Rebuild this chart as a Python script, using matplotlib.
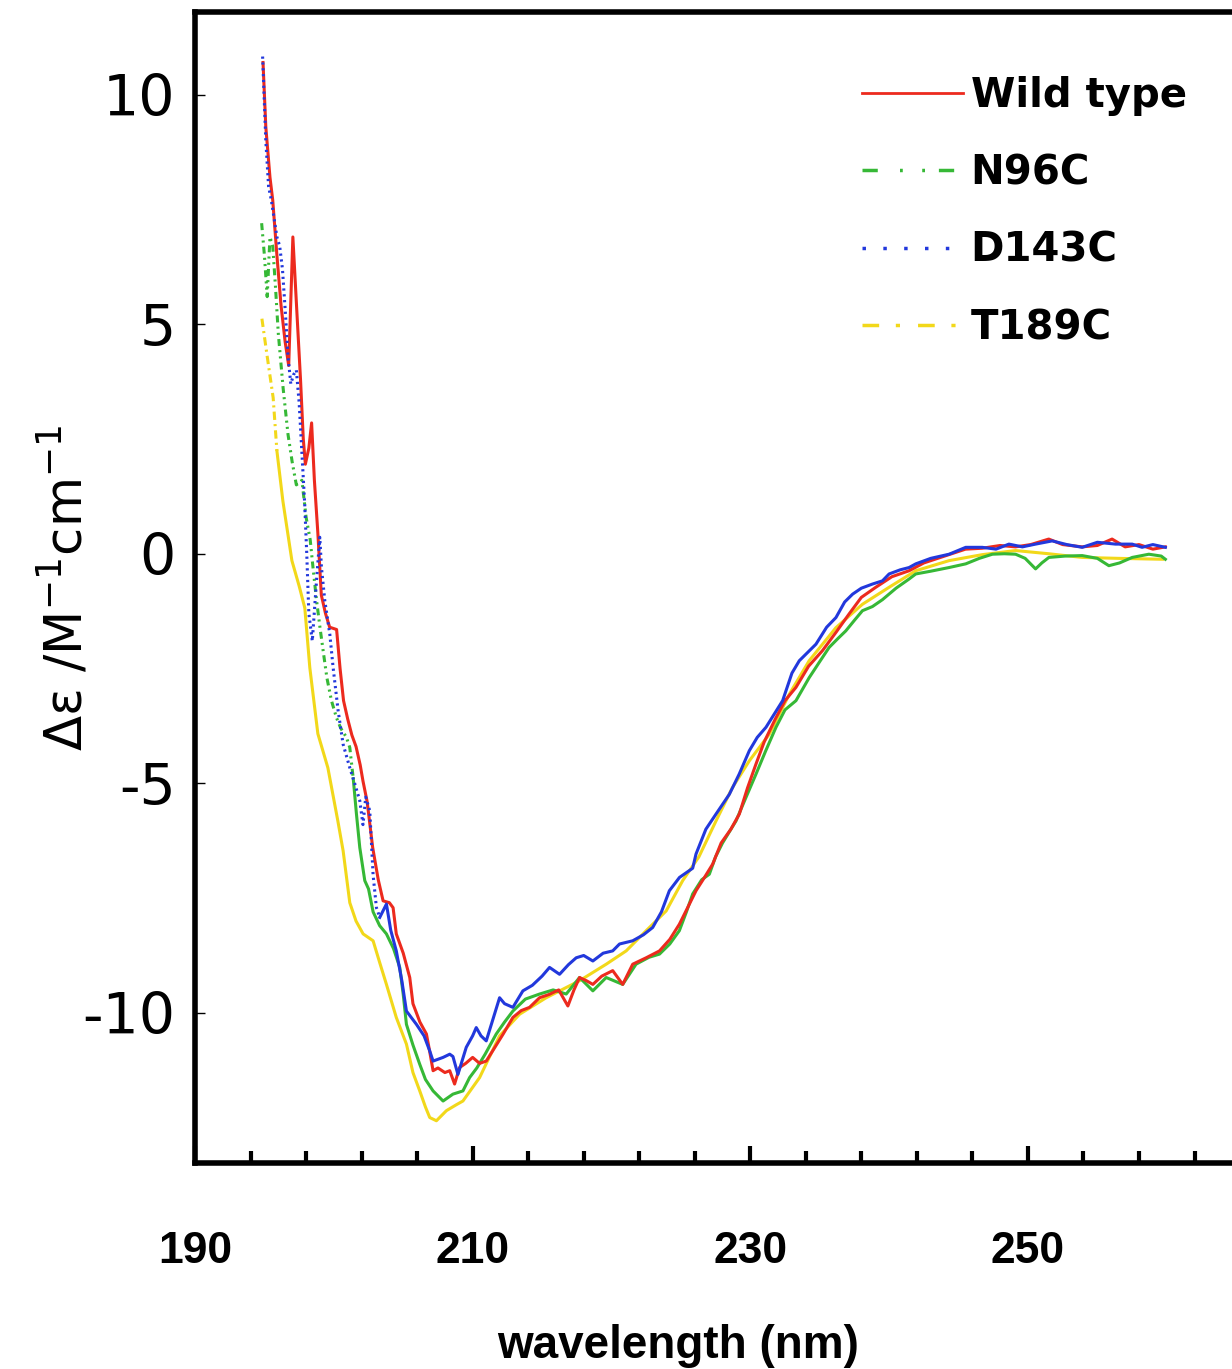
import numpy as np
from matplotlib import pyplot as plt
from matplotlib.lines import Line2D

plt.rcParams['axes.unicode_minus'] = False
plt.rcParams['lines.scale_dashes'] = False

# CD spectra: wavelength (nm) and delta epsilon (M-1 cm-1)
wt_nm = [194.9, 195.1, 195.4, 195.6, 195.9, 196.2, 196.5, 196.75, 197.05, 197.35, 197.6, 197.8,
         197.95, 198.2, 198.4, 198.6, 198.85, 199.1, 199.4, 199.7, 200.2, 200.45, 200.7, 201.0,
         201.3, 201.6, 201.9, 202.1, 202.4, 202.8, 203.2, 203.55, 204.0, 204.27, 204.5, 205.0,
         205.47, 205.7, 206.2, 206.67, 206.9, 207.15, 207.5, 208.0, 208.35, 208.7, 209.06, 209.5,
         210.0, 210.5, 210.98, 211.5, 212.2, 212.9, 213.5, 214.1, 214.82, 215.5, 216.2, 216.86,
         217.3, 217.7, 218.2, 218.66, 219.3, 220.09, 220.81, 221.53, 222.5, 223.46, 224.2, 224.89,
         225.5, 226.09, 226.7, 227.29, 227.9, 228.6, 229.21, 229.8, 230.41, 231.0, 231.8, 232.5,
         233.29, 234.2, 235.2, 236.2, 237.12, 238.0, 239.04, 240.2, 241.44, 242.5, 243.5, 244.5,
         245.5, 246.7, 248.0, 249.1, 250.2, 251.5, 252.5, 253.9, 255.0, 256.06, 257.0, 258.0,
         259.0, 259.9]
wt_de = [10.7, 9.3, 8.2, 7.7, 6.5, 5.4, 4.6, 4.1, 6.9, 5.2, 3.8, 2.5,
         1.95, 2.3, 2.85, 1.6, 0.45, -0.9, -1.3, -1.6, -1.65, -2.5, -3.2, -3.6,
         -3.95, -4.2, -4.6, -4.95, -5.4, -6.4, -7.1, -7.56, -7.6, -7.71, -8.28, -8.7,
         -9.23, -9.8, -10.2, -10.46, -10.83, -11.26, -11.2, -11.3, -11.26, -11.55, -11.19, -11.1,
         -10.97, -11.1, -11.05, -10.8, -10.46, -10.1, -9.95, -9.88, -9.67, -9.6, -9.5, -9.85,
         -9.5, -9.23, -9.3, -9.38, -9.2, -9.08, -9.38, -8.94, -8.8, -8.65, -8.4, -8.07,
         -7.7, -7.34, -7.05, -6.76, -6.3, -6.0, -5.67, -5.1, -4.58, -4.1, -3.6, -3.2,
         -2.91, -2.45, -2.11, -1.7, -1.31, -0.95, -0.73, -0.5, -0.37, -0.2, -0.1, 0.0,
         0.1, 0.12, 0.18, 0.15, 0.2, 0.32, 0.2, 0.15, 0.18, 0.32, 0.15, 0.2,
         0.1, 0.15]

n96c_nm = [194.8, 195.0, 195.2, 195.4, 195.6, 195.8, 196.0, 196.35, 196.7, 197.0, 197.3, 197.7,
           198.0, 198.3, 198.5, 198.75, 199.0, 199.23, 199.5, 199.83, 200.19, 200.5, 200.91, 201.15,
           201.4, 201.63, 201.87, 202.23, 202.5, 202.83, 203.3, 203.79, 204.3, 204.75, 205.0, 205.23,
           205.7, 206.19, 206.6, 207.15, 207.87, 208.58, 209.3, 209.78, 210.3, 210.9, 211.7, 212.3,
           212.9, 213.8, 214.82, 215.8, 216.74, 217.7, 218.66, 219.62, 220.81, 221.77, 222.7, 223.46,
           224.2, 224.89, 225.4, 225.85, 226.5, 227.05, 227.5, 228.0, 228.97, 229.7, 230.41, 231.1,
           231.85, 232.5, 233.29, 234.24, 235.0, 235.68, 236.3, 236.88, 237.5, 238.08, 238.8, 239.52,
           240.5, 241.44, 241.92, 243.0, 244.32, 245.52, 246.5, 247.44, 248.3, 249.11, 249.8, 250.55,
           251.0, 251.51, 252.7, 253.91, 255.0, 255.83, 256.6, 257.51, 258.71, 259.6, 259.9]
n96c_de = [7.2, 6.5, 5.6, 6.9, 6.7, 5.8, 4.8, 3.6, 2.6, 2.0, 1.5, 1.6,
           0.8, 0.3, -0.3, -1.0, -1.6, -2.11, -2.7, -3.2, -3.57, -3.8, -4.0, -4.22,
           -4.9, -5.67, -6.4, -7.12, -7.3, -7.8, -8.1, -8.28, -8.6, -9.01, -9.6, -10.25,
           -10.7, -11.12, -11.45, -11.7, -11.92, -11.77, -11.7, -11.41, -11.2, -10.9, -10.46, -10.2,
           -9.96, -9.7, -9.59, -9.5, -9.59, -9.23, -9.52, -9.23, -9.38, -8.94, -8.79, -8.72,
           -8.5, -8.21, -7.8, -7.41, -7.1, -6.98, -6.6, -6.3, -5.82, -5.3, -4.8, -4.3,
           -3.78, -3.4, -3.2, -2.7, -2.35, -2.04, -1.85, -1.68, -1.45, -1.24, -1.15, -1.0,
           -0.75, -0.55, -0.44, -0.38, -0.3, -0.22, -0.1, -0.01, 0.0, -0.01, -0.1, -0.33,
           -0.2, -0.08, -0.05, -0.04, -0.1, -0.26, -0.2, -0.08, -0.01, -0.05, -0.12]

d143c_nm = [194.87, 195.1, 195.3, 195.5, 195.7, 195.9, 196.1, 196.3, 196.5, 196.7, 196.9, 197.1,
            197.3, 197.5, 197.7, 197.9, 198.05, 198.2, 198.45, 198.75, 198.99, 199.11, 199.35, 199.71,
            199.95, 200.31, 200.67, 201.15, 201.5, 201.87, 202.1, 202.3, 202.59, 202.83, 203.07, 203.31,
            203.79, 204.1, 204.5, 204.9, 205.23, 205.95, 206.5, 206.91, 207.15, 207.87, 208.35, 208.58,
            208.94, 209.54, 210.0, 210.26, 210.6, 210.98, 211.4, 211.94, 212.3, 212.9, 213.62, 214.3,
            215.0, 215.54, 216.26, 216.9, 217.46, 218.0, 218.66, 219.4, 220.09, 220.58, 221.53, 222.3,
            222.97, 223.6, 224.17, 224.9, 225.85, 226.09, 226.8, 227.53, 228.49, 229.2, 229.93, 230.5,
            231.13, 232.33, 233.0, 233.53, 234.73, 235.5, 236.17, 236.8, 237.37, 238.0, 238.8, 239.52,
            240.0, 240.8, 241.44, 241.92, 243.0, 244.32, 245.52, 246.71, 247.7, 248.63, 249.6, 250.55,
            251.75, 252.8, 253.91, 255.0, 256.31, 257.51, 258.22, 259.0, 259.9]
d143c_de = [10.83, 9.0, 8.0, 7.7, 7.3, 6.9, 6.7, 6.2, 5.3, 4.3, 3.7, 3.9,
            4.0, 3.3, 2.2, 1.1, 0.0, -1.3, -1.9, -0.6, 0.36, -0.3, -1.02, -1.75,
            -2.48, -3.42, -4.15, -4.66, -5.0, -5.38, -5.9, -5.3, -5.6, -7.0, -7.71, -7.92,
            -7.63, -8.2, -8.65, -9.3, -9.96, -10.25, -10.5, -10.83, -11.05, -10.97, -10.9, -10.95,
            -11.34, -10.75, -10.5, -10.32, -10.5, -10.61, -10.2, -9.67, -9.8, -9.88, -9.52, -9.4,
            -9.2, -9.01, -9.16, -8.95, -8.8, -8.75, -8.87, -8.7, -8.65, -8.5, -8.43, -8.3,
            -8.14, -7.8, -7.34, -7.05, -6.85, -6.54, -6.0, -5.67, -5.24, -4.8, -4.29, -4.0,
            -3.78, -3.2, -2.6, -2.33, -1.97, -1.6, -1.39, -1.05, -0.88, -0.75, -0.66, -0.59,
            -0.44, -0.35, -0.3, -0.22, -0.1, -0.01, 0.14, 0.14, 0.1, 0.21, 0.15, 0.21,
            0.28, 0.2, 0.14, 0.25, 0.21, 0.21, 0.14, 0.2, 0.14]

t189c_nm = [194.82, 195.2, 195.63, 195.9, 196.33, 196.98, 197.5, 197.91, 198.27, 198.85, 199.57, 200.29,
            200.67, 201.15, 201.6, 202.11, 202.83, 203.3, 203.79, 204.5, 205.23, 205.7, 206.19, 206.6,
            206.91, 207.39, 208.11, 208.83, 209.3, 210.5, 211.94, 213.38, 215.3, 217.7, 219.62, 221.06,
            222.5, 223.94, 225.13, 226.3, 227.53, 228.7, 229.93, 231.37, 232.81, 234.24, 236.17, 238.08,
            240.0, 241.92, 244.32, 246.7, 249.11, 251.5, 253.91, 256.5, 259.7]
t189c_de = [5.12, 4.3, 3.4, 2.24, 1.15, -0.15, -0.7, -1.18, -2.48, -3.92, -4.66, -5.82,
            -6.47, -7.6, -8.0, -8.28, -8.43, -8.9, -9.38, -10.1, -10.68, -11.3, -11.7, -12.05,
            -12.28, -12.35, -12.13, -12.0, -11.92, -11.41, -10.5, -10.03, -9.67, -9.3, -8.94, -8.65,
            -8.21, -7.78, -7.12, -6.6, -5.82, -5.1, -4.51, -3.93, -3.06, -2.33, -1.61, -1.10,
            -0.73, -0.37, -0.15, -0.02, 0.07, 0.0, -0.08, -0.1, -0.12]

labels = ['Wild type', 'N96C', 'D143C', 'T189C']
colors = ['#ec2a1e', '#36b836', '#2238dc', '#f2d81a']

fig = plt.figure(figsize=(12.32, 13.69), dpi=100)
ax = fig.add_axes([195 / 1232, 206 / 1369, 1 - 195 / 1232, 1151 / 1369])


def draw(nm, de, color, cut=None, dash=None):
    # the original only shows the dash pattern on the steep part of each trace
    nm = np.asarray(nm)
    de = np.asarray(de)
    if dash is None:
        ax.plot(nm, de, color=color, lw=2.2)
        return
    k = np.searchsorted(nm, cut)
    ax.plot(nm[:k + 1], de[:k + 1], color=color, lw=2.2, dashes=dash)
    ax.plot(nm[k:], de[k:], color=color, lw=2.2)


draw(t189c_nm, t189c_de, colors[3], 195.9, (6, 3, 1.5, 3))
draw(n96c_nm, n96c_de, colors[1], 201.2, (5, 3, 1.5, 3, 1.5, 3))
draw(wt_nm, wt_de, colors[0])
draw(d143c_nm, d143c_de, colors[2], 203.1, (1.6, 2.6))

ax.set_xlim(190, 264.7)
ax.set_ylim(-13.27, 11.8)

for s in ['left', 'bottom', 'top']:
    ax.spines[s].set_linewidth(4)
ax.spines['right'].set_visible(False)

ax.set_xticks([190, 210, 230, 250])
ax.set_xticks(np.arange(190, 265, 4), minor=True)
ax.set_yticks([-10, -5, 0, 5, 10])
ax.tick_params(axis='x', which='major', direction='in', length=12, width=3, pad=49, top=False)
ax.tick_params(axis='x', which='minor', direction='in', length=8.5, width=3, top=False)
ax.tick_params(axis='y', which='major', direction='in', length=7, width=1, pad=14, right=False)

narrow = ['Liberation Sans', 'DejaVu Sans']
for t in ax.get_xticklabels():
    t.set_family(narrow)
    t.set_fontsize(32)
    t.set_fontweight('bold')
for t in ax.get_yticklabels():
    t.set_fontsize(41)

ax.set_xlabel('wavelength (nm)', family=narrow, fontsize=33, fontweight='bold', labelpad=34)
ax.xaxis.set_label_coords(0.466, -0.14)
ax.set_ylabel('Δε /M$^{-1}$cm$^{-1}$', fontsize=37, labelpad=-8)

handles = [Line2D([], [], color=colors[0], lw=2),
           Line2D([], [], color=colors[1], lw=2.5, dashes=(11, 16, 2, 14, 2, 10)),
           Line2D([], [], color=colors[2], lw=2.5, dashes=(2.5, 12.5)),
           Line2D([], [], color=colors[3], lw=2.5, dashes=(12, 12, 3, 13))]
leg = ax.legend(handles, labels, loc='upper left', bbox_to_anchor=(862 / 1232, 1 - 76 / 1369),
                bbox_transform=fig.transFigure, frameon=False, borderpad=0, borderaxespad=0,
                handlelength=2.5, handletextpad=0.2, labelspacing=0.93,
                prop={'size': 29, 'weight': 'bold'})

fig.savefig('out.png', dpi=100)
